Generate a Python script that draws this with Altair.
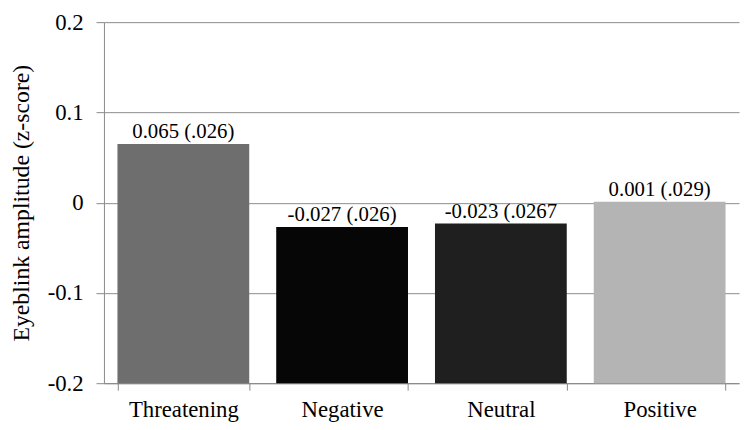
import altair as alt
import pandas as pd

categories = ["Threatening", "Negative", "Neutral", "Positive"]
values = [0.065, -0.027, -0.023, 0.001]
labels = ["0.065 (.026)", "-0.027 (.026)", "-0.023 (.0267", "0.001 (.029)"]
colors = ["#6e6e6e", "#060606", "#1f1f1f", "#b4b4b4"]

df = pd.DataFrame({"cat": categories, "val": values, "lab": labels, "base": [-0.2] * 4})

FONT = "'Times New Roman', 'Liberation Serif', serif"

x = alt.X("cat:N", sort=categories, title=None,
          scale=alt.Scale(paddingInner=0.17, paddingOuter=0.085),
          axis=alt.Axis(labelAngle=0, labelFont=FONT, labelFontSize=23, labelColor="black",
                        domainColor="#888888", tickColor="#888888", tickBand="extent",
                        tickSize=7, labelPadding=9, grid=False))
y = alt.Y("val:Q", title="Eyeblink amplitude (z-score)",
          scale=alt.Scale(domain=[-0.2, 0.2], nice=False, zero=False),
          axis=alt.Axis(values=[-0.2, -0.1, 0, 0.1, 0.2],
                        labelExpr="datum.value == 0 ? '0' : replace(format(datum.value, '.1f'), '\u2212', '-')",
                        labelFont=FONT, labelFontSize=23, labelColor="black",
                        titleFont=FONT, titleFontSize=24, titleFontWeight="normal",
                        titleColor="black", titlePadding=14,
                        domainColor="#888888", tickColor="#888888", tickSize=8,
                        labelPadding=13, gridColor="#8c8c8c", gridWidth=1))

bars = alt.Chart(df).mark_bar().encode(
    x=x, y=y, y2="base:Q",
    color=alt.Color("cat:N", sort=categories,
                    scale=alt.Scale(domain=categories, range=colors), legend=None),
)

text = alt.Chart(df).mark_text(font=FONT, fontSize=21, dy=-12, color="black").encode(
    x=alt.X("cat:N", sort=categories), y="val:Q", text="lab:N"
)

chart = (bars + text).properties(
    width=642, height=365,
    autosize=alt.AutoSizeParams(type="none"),
    padding={"left": 97, "top": 12, "right": 2, "bottom": 45},
).configure_view(stroke=None)

chart.save("out.html", embed_options={"renderer": "svg", "actions": False})
